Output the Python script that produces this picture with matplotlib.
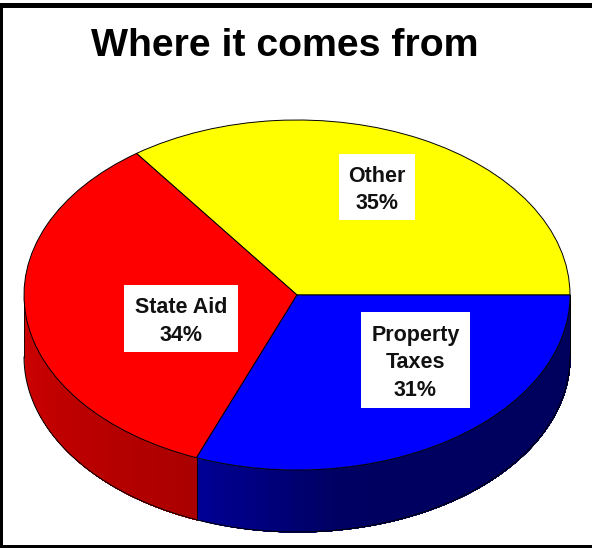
import numpy as np
import matplotlib
matplotlib.use('Agg')
import matplotlib.pyplot as plt
from matplotlib.patches import Rectangle

plt.rcParams['font.family'] = ['Liberation Sans', 'DejaVu Sans']

# revenue shares, counterclockwise from 3 o'clock
sources = ['Other', 'State Aid', 'Property\nTaxes']
shares = [35, 34, 31]
pct_labels = ['35%', '34%', '31%']
top_colors = ['#ffff00', '#ff0000', '#0000ff']

W, H = 592, 548
fig = plt.figure(figsize=(W / 100, H / 100), dpi=100, facecolor='white')

# pie axes, sized so the unit circle is squashed into an ellipse
left, right, top, rim_bottom = 24, 570, 120, 532
ry = 175.0
depth = 62 / ry
ax = fig.add_axes([left / W, 1 - rim_bottom / H, (right - left) / W, (rim_bottom - top) / H])

wedges, _ = ax.pie(shares, colors=top_colors, startangle=0, counterclock=True, radius=1,
                   wedgeprops=dict(edgecolor='black', linewidth=0.7, zorder=5))
ax.set_aspect('auto')
ax.set_xlim(-1, 1)
ax.set_ylim(-1 - depth, 1)
for w in wedges:
    w.set_clip_on(False)


def shade(i, th, th0, th1):
    # side wall darkens going round, each slice has its own ramp
    if i == 1:
        return (np.interp(th, [th0, th1], [208, 170]) / 255, 0, 0)
    if i == 2:
        return (0, 0, np.interp(th, [th0, th0 + 30, th1], [150, 98, 92]) / 255)
    return (0.6, 0.6, 0)


# rim drawn in overlapping strips over the front half only
angles = np.cumsum([0] + shares) * 3.6
for i in range(len(shares)):
    a0 = max(angles[i], 180)
    a1 = angles[i + 1]
    if a1 <= a0:
        continue
    edges = np.arange(a0, a1, 1.0)
    for t0 in edges:
        # each strip runs on to the slice end and the next one paints over it
        th = np.radians(np.linspace(t0, a1, 40))
        c = shade(i, t0 + 0.5, a0, a1)
        ax.fill_between(np.cos(th), np.sin(th), np.sin(th) - depth, color=c, lw=0, zorder=2, clip_on=False)
    cut = np.radians(a0)
    ax.plot([np.cos(cut)] * 2, [np.sin(cut), np.sin(cut) - depth], color='black', lw=0.6, zorder=3, clip_on=False)

th = np.radians(np.linspace(180, 360, 300))
ax.plot(np.cos(th), np.sin(th) - depth, color='black', lw=0.7, zorder=3, clip_on=False)
ax.plot([1, 1], [0, -depth], color='black', lw=0.7, zorder=3, clip_on=False)

# overlay in pixel coordinates for frame, title and label boxes
ov = fig.add_axes([0, 0, 1, 1], facecolor='none')
ov.set_xlim(0, W)
ov.set_ylim(H, 0)
ov.axis('off')

for x, y, w, h in [(0, 3, W, 5), (0, 3, 3, H), (0, 545, W, 3)]:
    ov.add_patch(Rectangle((x, y), w, h, facecolor='black', edgecolor='none'))

ov.text(284.5, 46, 'Where it comes from', fontsize=28.3, fontweight='bold', ha='center', va='center', color='black')

boxes = [(339, 154, 76, 66), (124, 285, 114, 67), (361, 312, 109, 96)]
for name, pct, (x, y, w, h) in zip(sources, pct_labels, boxes):
    ov.add_patch(Rectangle((x, y), w, h, facecolor='white', edgecolor='none', zorder=6))
    ov.text(x + w / 2, y + h / 2 + 3, name + '\n' + pct, fontsize=15.5, fontweight='bold', ha='center', va='center',
            color='#111111', linespacing=1.4, zorder=7)

fig.savefig('out.png', dpi=100)
